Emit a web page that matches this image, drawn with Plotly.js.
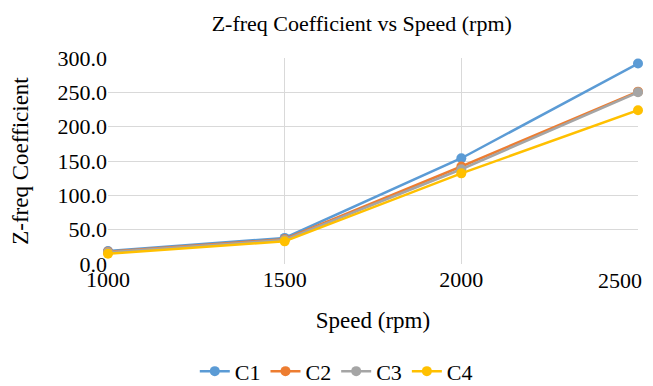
<!DOCTYPE html>
<html><head><meta charset="utf-8">
<script src="https://cdn.plot.ly/plotly-3.0.1.min.js"></script>
<style>html,body{margin:0;padding:0;background:#fff}#chart{width:653px;height:386px}</style>
</head><body><div id="chart"></div>
<script>
const speeds = [1000, 1500, 2000, 2500];
const speedLabels = ["1000", "1500", "2000", "2500"];
const seriesNames = ["C1", "C2", "C3", "C4"];
const c1 = [19, 38, 154, 292];
const c2 = [18, 36, 142, 251];
const c3 = [17, 35, 138, 250];
const c4 = [15, 33, 132, 224];
const colors = ["#5B9BD5", "#ED7D31", "#A5A5A5", "#FFC000"];
const values = [c1, c2, c3, c4];
const traces = values.map((v, i) => ({
  x: speeds, y: v, name: seriesNames[i], type: "scatter", mode: "lines+markers",
  line: {color: colors[i], width: 2.5}, marker: {color: colors[i], size: 10},
  cliponaxis: false
}));
const font = "Liberation Serif, Times New Roman, serif";
const last = speeds.length - 1;
Plotly.newPlot("chart", traces, {
  width: 653, height: 386,
  margin: {l: 108, r: 15, t: 58, b: 122},
  paper_bgcolor: "#fff", plot_bgcolor: "#fff",
  font: {family: font, color: "#000"},
  title: {text: "Z-freq Coefficient vs Speed (rpm)", font: {size: 22, family: font}, x: 0.554, xanchor: "center", y: 0.94, yanchor: "middle"},
  xaxis: {range: [1000, 2500], tickvals: speeds, ticktext: speedLabels.map((s, i) => i === last ? "" : s), showgrid: true, gridcolor: "#D9D9D9", zeroline: false, showline: false,
    tickfont: {size: 22}, ticks: "", automargin: false, title: {text: "Speed (rpm)", font: {size: 23}, standoff: 20}},
  yaxis: {range: [0, 300], dtick: 50, tickformat: ".1f", showgrid: true, gridcolor: "#D9D9D9", zeroline: false, showline: false,
    tickfont: {size: 22}, ticks: "", automargin: false, title: {text: "Z-freq Coefficient", font: {size: 23}, standoff: 22}},
  annotations: [{x: speeds[last], y: 0, xref: "x", yref: "y", text: speedLabels[last], showarrow: false,
    xanchor: "right", yanchor: "top", xshift: 6, yshift: -2, font: {size: 22, family: font, color: "#000"}}],
  legend: {orientation: "h", x: 0.515, xanchor: "center", xref: "container", yref: "container", y: 0.038, yanchor: "middle", font: {size: 22}, traceorder: "normal"},
  showlegend: true
}, {displayModeBar: false});
</script></body></html>
